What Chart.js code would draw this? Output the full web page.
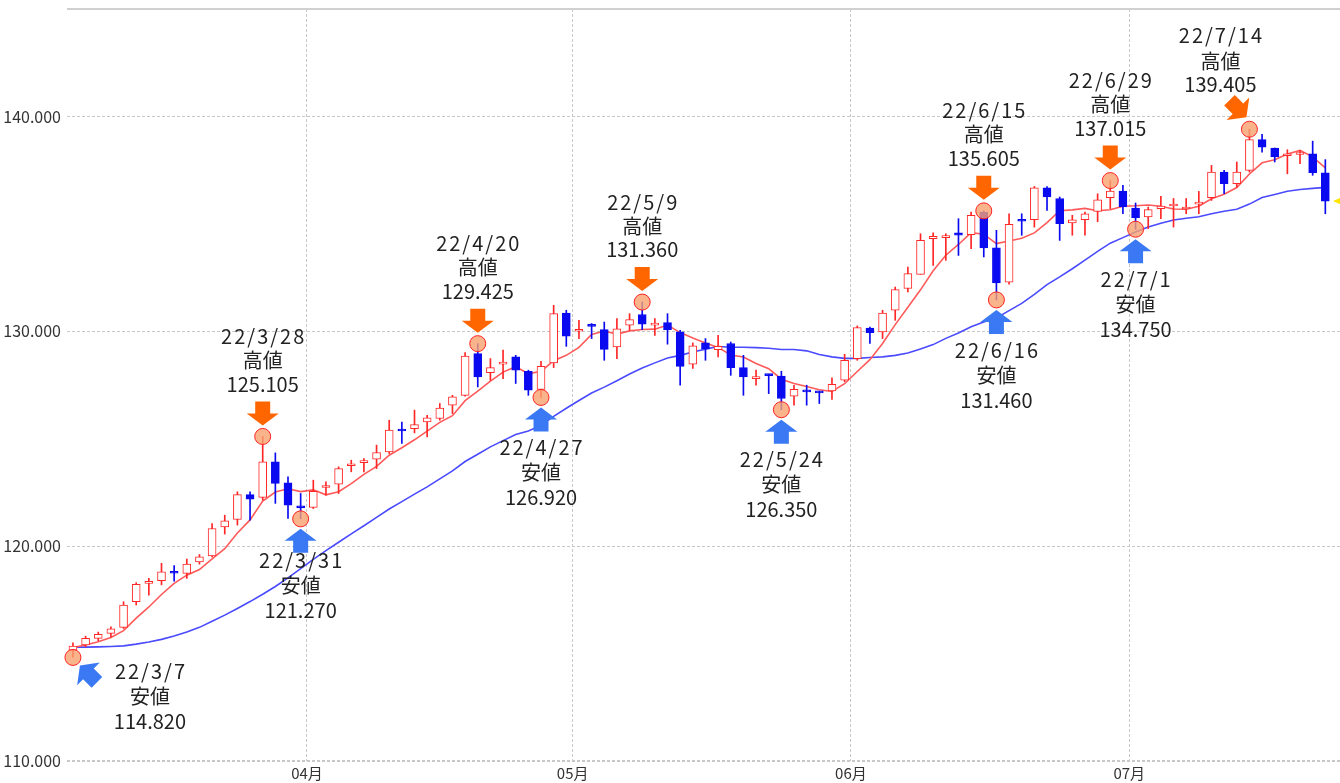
<!DOCTYPE html>
<html>
<head>
<meta charset="utf-8">
<style>
html,body{margin:0;padding:0;background:#fff;}
#wrap{width:1340px;height:783px;position:relative;overflow:hidden;}
canvas{display:block;}
</style>
<script src="https://cdn.jsdelivr.net/npm/chart.js@4.4.1/dist/chart.umd.min.js"></script>
</head>
<body>
<div id="wrap"><canvas id="c" width="1340" height="783"></canvas></div>
<script>
// ---- data (USD/JPY daily, 2022/3/7 - 2022/7/22) ----
const dates = ['3/7','3/8','3/9','3/10','3/11','3/14','3/15','3/16','3/17','3/18','3/21','3/22','3/23','3/24','3/25','3/28','3/29','3/30','3/31',
'4/1','4/4','4/5','4/6','4/7','4/8','4/11','4/12','4/13','4/14','4/15','4/18','4/19','4/20','4/21','4/22','4/25','4/26','4/27','4/28','4/29',
'5/2','5/3','5/4','5/5','5/6','5/9','5/10','5/11','5/12','5/13','5/16','5/17','5/18','5/19','5/20','5/23','5/24','5/25','5/26','5/27','5/30','5/31',
'6/1','6/2','6/3','6/6','6/7','6/8','6/9','6/10','6/13','6/14','6/15','6/16','6/17','6/20','6/21','6/22','6/23','6/24','6/27','6/28','6/29','6/30',
'7/1','7/4','7/5','7/6','7/7','7/8','7/11','7/12','7/13','7/14','7/15','7/18','7/19','7/20','7/21','7/22'];

const opens = [115.15,115.40,115.71,115.94,116.22,117.41,118.27,118.39,118.81,118.73,
119.27,119.55,120.90,121.24,122.40,122.27,123.92,122.95,121.88,121.80,
122.73,122.88,123.74,123.89,124.05,124.39,125.43,125.47,125.78,125.94,
126.56,127.02,128.96,128.07,128.47,128.81,128.14,127.29,128.53,130.85,
130.00,130.28,130.08,129.27,130.28,130.78,130.29,130.40,129.97,128.47,
129.46,129.15,129.43,128.31,127.80,127.99,127.91,126.98,127.26,127.18,
127.22,127.72,128.73,130.15,129.97,130.98,131.99,132.65,134.31,134.36,
134.58,134.50,135.55,133.89,132.29,135.19,135.19,136.68,136.18,135.04,
135.19,135.58,136.22,136.53,135.74,135.32,135.71,135.83,135.69,135.92,
136.22,137.41,136.87,137.49,138.92,138.53,138.17,138.23,138.26,137.38];

const highs = [115.50,115.81,116.00,116.25,117.41,118.30,118.50,119.20,119.09,119.40,
119.61,121.05,121.44,122.53,122.53,125.105,124.34,123.23,122.45,123.07,
122.99,123.69,124.00,124.08,124.70,125.86,125.78,126.33,126.09,126.64,
127.02,129.01,129.425,128.73,129.12,128.88,128.19,128.60,131.21,130.98,
130.51,130.36,130.43,130.59,130.82,131.36,130.59,130.82,130.05,129.46,
129.66,129.81,129.50,128.88,128.19,128.00,128.14,127.49,127.49,127.21,
127.83,128.93,130.25,130.20,130.98,132.06,132.99,134.54,134.58,134.54,
135.24,135.55,135.605,134.70,135.47,135.47,136.74,136.74,136.25,135.40,
135.55,136.40,137.015,136.79,135.97,135.78,136.28,136.18,136.18,136.51,
137.72,137.49,137.88,139.405,139.17,138.53,138.45,138.42,138.85,137.99];

const lows = [114.82,115.32,115.60,115.78,116.17,117.26,117.72,118.20,118.37,118.50,
119.16,119.50,120.56,120.98,121.21,122.14,121.99,121.29,121.27,121.75,
122.37,122.45,123.46,123.46,123.61,124.31,124.78,125.27,125.08,125.86,
126.17,126.98,127.41,127.72,127.80,127.57,127.02,126.92,128.31,129.30,
129.66,129.66,128.65,128.73,130.05,130.08,129.81,129.40,127.49,128.27,
128.65,128.81,127.95,127.02,127.49,127.10,126.35,126.56,126.56,126.64,
126.83,127.65,128.65,129.43,129.66,130.51,131.83,132.65,133.07,133.30,
133.53,133.85,133.46,131.46,132.19,134.47,134.85,135.63,134.23,134.47,
134.47,135.10,135.71,135.47,134.75,134.78,135.24,134.85,135.47,135.47,
136.09,136.40,136.71,137.41,138.34,137.88,137.33,137.80,137.26,135.47];

const closes = [115.35,115.71,115.89,116.15,117.26,118.22,118.33,118.81,118.74,119.16,
119.50,120.82,121.18,122.40,122.19,123.92,122.92,121.91,121.78,122.55,
122.78,123.61,123.81,123.97,124.36,125.40,125.36,125.66,125.97,126.43,
126.95,128.85,127.88,128.31,128.53,128.19,127.26,128.37,130.82,129.77,
130.05,130.23,129.16,130.12,130.54,130.33,130.36,130.08,128.37,129.32,
129.18,129.30,128.31,127.88,127.85,127.94,126.87,127.30,127.18,127.13,
127.53,128.65,130.17,129.94,130.85,131.94,132.68,134.23,134.42,134.42,
134.47,135.40,133.88,132.25,134.98,135.12,136.68,136.25,135.01,135.19,
135.47,136.12,136.53,135.79,135.29,135.66,135.83,135.89,135.75,135.99,
137.41,136.87,137.41,138.92,138.57,138.11,138.23,138.29,137.38,136.06];

// short moving average (red) and long moving average (blue)
const maShort = [115.28,115.40,115.55,115.75,116.07,116.65,117.17,117.75,118.27,118.65,
118.91,119.41,119.88,120.61,121.22,122.10,122.52,122.67,122.54,122.62,
122.39,122.53,122.91,123.34,123.71,124.23,124.58,124.95,125.35,125.76,
126.07,126.77,127.22,127.68,128.10,128.35,128.03,128.13,128.63,128.88,
129.25,129.85,130.01,129.87,130.02,130.08,130.10,130.29,129.94,129.69,
129.46,129.25,128.90,128.80,128.50,128.26,127.77,127.57,127.43,127.28,
127.20,127.56,128.13,128.68,129.43,130.31,131.12,131.93,132.82,133.54,
134.04,134.59,134.52,134.08,134.20,134.33,134.58,135.06,135.61,135.65,
135.72,135.61,135.66,135.82,135.84,135.88,135.82,135.69,135.68,135.82,
136.17,136.38,136.69,137.32,137.84,137.98,138.25,138.42,138.12,137.61];

const maLong = [115.30,115.30,115.31,115.33,115.36,115.44,115.54,115.66,115.82,116.00,
116.22,116.50,116.79,117.10,117.42,117.76,118.12,118.52,118.95,119.38,
119.79,120.18,120.57,120.95,121.34,121.73,122.07,122.42,122.76,123.13,
123.50,123.94,124.28,124.62,124.91,125.20,125.36,125.62,126.04,126.42,
126.78,127.13,127.40,127.70,128.01,128.29,128.53,128.76,128.88,129.04,
129.17,129.29,129.26,129.26,129.24,129.21,129.15,129.15,129.09,128.92,
128.81,128.74,128.74,128.78,128.81,128.88,128.99,129.18,129.38,129.67,
129.92,130.21,130.43,130.62,130.96,131.30,131.72,132.17,132.53,132.91,
133.31,133.72,134.10,134.36,134.62,134.85,135.03,135.18,135.26,135.33,
135.47,135.59,135.68,135.92,136.23,136.37,136.52,136.60,136.65,136.70];

const monthLabels = ['04月','05月','06月','07月'];
const yTickValues = [110, 120, 130, 140];

// high / low marks
const markIndex = [0, 15, 18, 32, 37, 45, 56, 72, 73, 82, 84, 93];
const markKind  = ['low','high','low','high','low','high','low','high','low','high','low','high'];
const markValue = [114.820,125.105,121.270,129.425,126.920,131.360,126.350,135.605,131.460,137.015,134.750,139.405];
const kindText = { high: '高値', low: '安値' };
const yearPrefix = '22/';

// ---- styles / layout ----
const UP = '#ff2626', DOWN = '#0a0af0';
const AXIS_FONT = "'Liberation Sans Narrow', 'Noto Sans CJK JP', sans-serif";
const NOTE_FONT = "'Noto Sans CJK JP', 'Noto Sans', sans-serif";
const ORANGE = '#ff6600', BLUE_ARROW = '#3a78f4';
const specialLayout = {
  0:  { tipDx: 7, tipDy: 8, angle: 135, textDx: 77, lines: [14, 39, 64] },
  2:  { lines: [42, 67, 92] },
  11: { tipDx: -3, tipDy: -12, angle: -45, textDx: -29, lines: [-94, -68, -45] }
};

// month boundary positions (between last day of a month and first day of next)
const monthOf = d => d.split('/')[0];
const monthPos = [];
for (let i = 1; i < dates.length; i++) {
  if (monthOf(dates[i]) !== monthOf(dates[i-1])) monthPos.push(i - 0.5);
}

const isUp = opens.map((o, i) => closes[i] >= o);

function drawArrow(ctx, tx, ty, angleDeg, color) {
  ctx.save();
  ctx.translate(tx, ty);
  ctx.rotate(angleDeg * Math.PI / 180);
  ctx.fillStyle = color;
  ctx.beginPath();
  ctx.moveTo(0, 0);
  ctx.lineTo(16, -12);
  ctx.lineTo(7.5, -12);
  ctx.lineTo(7.5, -24);
  ctx.lineTo(-7.5, -24);
  ctx.lineTo(-7.5, -12);
  ctx.lineTo(-16, -12);
  ctx.closePath();
  ctx.fill();
  ctx.restore();
}

const notesPlugin = {
  id: 'notes',
  afterDatasetsDraw(chart) {
    const { ctx, chartArea, scales } = chart;
    const xs = scales.x, ys = scales.y;
    ctx.save();
    // top frame line
    ctx.strokeStyle = '#d0d0d0';
    ctx.lineWidth = 2;
    ctx.beginPath();
    ctx.moveTo(chartArea.left, chartArea.top);
    ctx.lineTo(chartArea.right, chartArea.top);
    ctx.stroke();

    // current price marker
    const lastY = ys.getPixelForValue(closes[closes.length - 1]);
    ctx.fillStyle = '#ffe600';
    ctx.beginPath();
    ctx.moveTo(chartArea.right - 7, lastY);
    ctx.lineTo(chartArea.right + 4, lastY - 5);
    ctx.lineTo(chartArea.right + 4, lastY + 5);
    ctx.closePath();
    ctx.fill();

    ctx.font = `400 20px ${NOTE_FONT}`;
    ctx.fillStyle = '#222';
    ctx.textAlign = 'center';
    ctx.textBaseline = 'middle';
    markIndex.forEach((idx, k) => {
      const px = xs.getPixelForValue(idx);
      const py = ys.getPixelForValue(markValue[k]);
      const high = markKind[k] === 'high';
      const sp = specialLayout[k] || {};
      const tipDx = sp.tipDx ?? 0;
      const tipDy = sp.tipDy ?? (high ? -11 : 10);
      const angle = sp.angle ?? (high ? 0 : 180);
      drawArrow(ctx, px + tipDx, py + tipDy, angle, high ? ORANGE : BLUE_ARROW);
      const lines = sp.lines || (high ? [-100, -76, -52.5] : [50, 75, 100]);
      const tx = px + (sp.textDx ?? 0);
      const texts = [yearPrefix + dates[idx], kindText[markKind[k]], markValue[k].toFixed(3)];
      texts.forEach((t, j) => {
        ctx.letterSpacing = j === 0 ? '2px' : '0px';
        ctx.fillText(t, tx + (j === 0 ? 1 : 0), py + lines[j]);
      });
    });
    ctx.letterSpacing = '0px';
    ctx.restore();
  }
};

const xy = arr => arr.map((v, i) => ({ x: i, y: v }));

new Chart(document.getElementById('c'), {
  type: 'line',
  data: {
    datasets: [
      { type: 'line', label: 'MA long', data: xy(maLong), borderColor: '#4a4aff', borderWidth: 1.6,
        pointRadius: 0, tension: 0, order: 6 },
      { type: 'line', label: 'MA short', data: xy(maShort), borderColor: '#ff5a5a', borderWidth: 1.6,
        pointRadius: 0, tension: 0, order: 5 },
      { type: 'bar', label: 'wick', data: highs.map((h, i) => ({ x: i, y: [lows[i], h] })),
        backgroundColor: isUp.map(u => u ? UP : DOWN), borderWidth: 0, barThickness: 1,
        grouped: false, order: 4 },
      { type: 'bar', label: 'body', data: opens.map((o, i) => ({ x: i, y: [o, closes[i]] })),
        backgroundColor: isUp.map(u => u ? '#ffffff' : DOWN), borderColor: isUp.map(u => u ? UP : DOWN),
        borderWidth: 1, borderSkipped: false, barThickness: 8, minBarLength: 2,
        grouped: false, order: 3 },
      { type: 'scatter', label: 'marks', data: markIndex.map((i, k) => ({ x: i, y: markValue[k] })),
        pointRadius: 8, pointBackgroundColor: 'rgba(249,161,111,0.8)', pointBorderColor: '#ff2020',
        pointBorderWidth: 1, showLine: false, clip: false, order: 1 }
    ]
  },
  options: {
    responsive: false,
    animation: false,
    devicePixelRatio: 1,
    layout: { autoPadding: false, padding: { top: 9, left: 0, right: 0, bottom: 0 } },
    plugins: { legend: { display: false }, tooltip: { enabled: false } },
    scales: {
      x: {
        type: 'linear', min: -0.47, max: 100.16, offset: false,
        afterBuildTicks: s => { s.ticks = monthPos.map(v => ({ value: v })); },
        afterFit: s => { s.height = 22; s.paddingLeft = 0; s.paddingRight = 0; },
        ticks: { callback: (v, i) => monthLabels[i], font: { family: AXIS_FONT, size: 15 }, color: '#333',
          padding: 3, maxRotation: 0, autoSkip: false },
        grid: { offset: false, color: '#c8c8c8', lineWidth: 1, drawTicks: false, borderDash: [3, 2] },
        border: { display: false, dash: [3, 2] }
      },
      y: {
        type: 'linear', min: 110, max: 145,
        afterBuildTicks: s => { s.ticks = yTickValues.map(v => ({ value: v })); },
        afterFit: s => { s.width = 67; s.paddingTop = 0; s.paddingBottom = 0; },
        ticks: { callback: v => Number(v).toFixed(3), font: { family: AXIS_FONT, size: 16 }, color: '#333', padding: 6 },
        grid: { offset: false, color: '#c8c8c8', lineWidth: c => (c.tick && c.tick.value === 110) ? 2 : 1, drawTicks: false, borderDash: [3, 2] },
        border: { display: false, dash: [3, 2] }
      }
    }
  },
  plugins: [notesPlugin]
});
</script>
</body>
</html>
